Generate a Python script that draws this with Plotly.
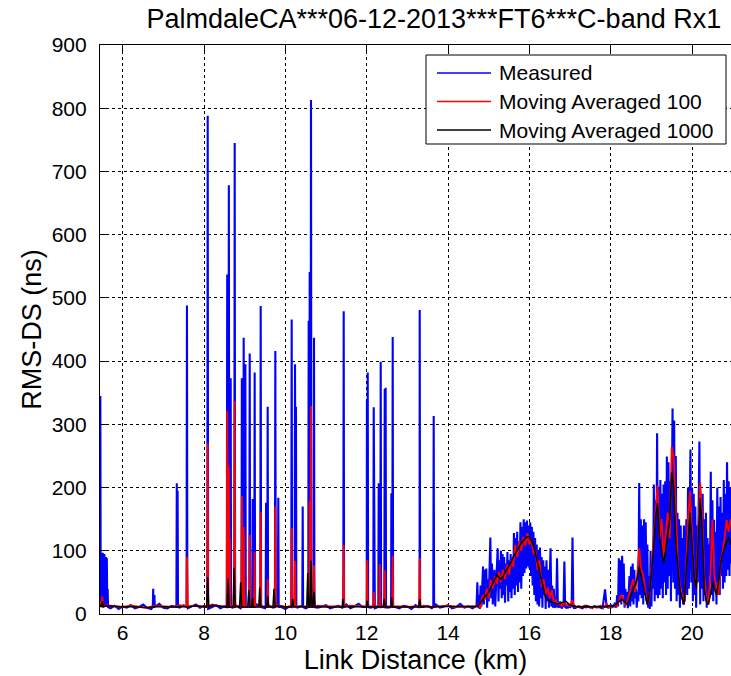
import numpy as np
import plotly.graph_objects as go

# ---------------- data ----------------
title_text = "PalmdaleCA***06-12-2013***FT6***C-band Rx1"
x_label = "Link Distance (km)"
y_label = "RMS-DS (ns)"
x_ticks = [6, 8, 10, 12, 14, 16, 18, 20]
y_ticks = [0, 100, 200, 300, 400, 500, 600, 700, 800, 900]
series_names = ["Measured", "Moving Averaged 100", "Moving Averaged 1000"]
series_colors = ["#0000FF", "#FF0000", "#000000"]

# Measured: quiet stretch sampled every 0.1 km from 5.4 km to 14.7 km
meas_quiet_start, meas_quiet_step = 5.4, 0.1
meas_quiet_y = [
    30, 14, 11, 9, 13, 8, 12, 10, 14, 9,
    11, 15, 10, 8, 12, 16, 10, 9, 13, 11,
    10, 14, 9, 12, 15, 10, 13, 8, 11, 14,
    9, 12, 16, 10, 13, 9, 14, 11, 10, 15,
    12, 9, 13, 10, 16, 11, 8, 12, 14, 10,
    13, 9, 15, 11, 10, 12, 14, 9, 11, 13,
    10, 15, 9, 12, 16, 11, 13, 10, 9, 14,
    12, 10, 15, 11, 9, 13, 12, 8, 14, 10,
    11, 13, 9, 15, 10, 12, 14, 9, 11, 16,
    10, 12, 9, 13,
]
# Measured: isolated spikes (km, ns)
meas_peak_x = [5.45, 5.47, 5.49, 5.51, 5.53, 5.55, 5.57, 5.59, 5.61, 5.63,
               6.75, 6.78, 7.33, 7.35, 7.58, 8.09, 8.57, 8.61, 8.655, 8.754,
               8.93, 8.955, 8.975, 9.016, 9.123, 9.196, 9.245, 9.393, 9.525, 9.565,
               9.753, 9.826, 10.155, 10.237, 10.26, 10.426, 10.573, 10.598, 10.63, 10.704,
               11.434, 12.005, 12.025, 12.172, 12.295, 12.344, 12.443, 12.465, 12.606, 12.639,
               13.303, 13.647]
meas_peak_y = [345, 95, 55, 97, 75, 95, 60, 90, 88, 40,
               40, 30, 207, 195, 488, 788, 537, 678, 373, 745,
               373, 360, 437, 395, 412, 182, 382, 487, 176, 328,
               416, 184, 466, 395, 328, 170, 464, 541, 813, 437,
               479, 338, 382, 327, 207, 399, 356, 358, 191, 438,
               481, 313]
meas_floor = 11
# Measured: first busy stretch, every 0.02 km from 14.72 km to 17.14 km
meas_hump1_start, meas_hump1_step = 14.72, 0.02
meas_hump1_y = [
    50, 10, 30, 8, 45, 12, 60, 75, 15, 70,
    30, 72, 10, 55, 20, 65, 121, 25, 80, 15,
    60, 70, 12, 50, 95, 104, 20, 85, 40, 100,
    25, 95, 30, 90, 18, 80, 45, 98, 20, 85,
    35, 95, 25, 88, 40, 128, 30, 120, 45, 130,
    35, 115, 50, 145, 40, 138, 60, 150, 65, 145,
    72, 148, 75, 140, 72, 145, 60, 138, 45, 130,
    30, 120, 20, 110, 15, 100, 12, 105, 25, 90,
    10, 85, 30, 75, 8, 85, 20, 70, 10, 60,
    104, 12, 45, 10, 40, 12, 10, 14, 88, 12,
    10, 13, 20, 11, 9, 12, 14, 83, 11, 10,
    13, 9, 12, 15, 10, 12, 14, 121, 11, 9,
    13, 10,
]
# Measured: quiet gap, every 0.1 km from 17.2 km to 17.8 km
meas_gap_start, meas_gap_step = 17.2, 0.1
meas_gap_y = [12, 9, 13, 10, 12, 11, 9]
# Measured: second busy stretch, every 0.02 km from 17.86 km to 20.98 km
meas_hump2_start, meas_hump2_step = 17.86, 0.02
meas_hump2_y = [
    39, 12, 10, 14, 9, 13, 11, 15, 10, 12,
    14, 11, 18, 10, 15, 30, 12, 88, 20, 85,
    15, 92, 30, 80, 10, 40, 15, 35, 9, 30,
    60, 12, 75, 20, 80, 15, 70, 25, 40, 10,
    35, 20, 207, 30, 150, 25, 140, 15, 150, 30,
    145, 20, 110, 10, 60, 8, 100, 12, 80, 40,
    205, 20, 180, 30, 286, 25, 200, 30, 212, 40,
    190, 25, 205, 50, 210, 30, 249, 40, 240, 60,
    210, 20, 180, 325, 50, 306, 40, 250, 20, 160,
    30, 150, 10, 140, 40, 120, 15, 140, 20, 130,
    150, 30, 200, 40, 230, 260, 50, 200, 20, 190,
    30, 170, 10, 140, 50, 150, 273, 15, 190, 40,
    190, 20, 150, 30, 160, 10, 120, 30, 110, 60,
    225, 30, 180, 20, 149, 40, 130, 15, 200, 50,
    170, 30, 185, 60, 160, 40, 212, 50, 190, 60,
    240, 70, 210, 60, 200, 80, 180,
]

# Moving average 100: quiet stretch every 0.2 km from 5.4 km
red_quiet_start, red_quiet_step = 5.4, 0.2
red_quiet_y = [
    25, 14, 12, 11, 13, 12, 10, 13, 12, 11,
    14, 12, 13, 11, 15, 12, 14, 13, 12, 11,
    13, 12, 14, 11, 13, 12, 11, 13, 12, 12,
    11, 13, 12, 14, 12, 11, 13, 12, 11, 12,
    13, 11, 12, 13, 11, 12, 12,
]
red_peak_x = [5.50, 7.58, 8.09, 8.57, 8.61, 8.635, 8.754, 8.93, 8.975, 9.123,
              9.245, 9.393, 9.565, 9.753, 10.155, 10.237, 10.598, 10.63, 10.704, 11.434,
              12.01, 12.172, 12.32, 12.443, 12.639, 13.303]
red_peak_y = [28, 90, 270, 321, 232, 120, 337, 187, 138, 125,
              98, 161, 55, 170, 136, 84, 179, 329, 77, 109,
              85, 35, 79, 69, 92, 88]
red_floor = 12
red_dense_start, red_dense_step = 14.70, 0.05
red_dense_y = [
    12, 15, 10, 30, 22, 40, 25, 54, 40, 60,
    48, 67, 50, 70, 55, 78, 62, 85, 75, 109,
    90, 115, 100, 122, 108, 128, 110, 117, 95, 100,
    70, 85, 43, 55, 30, 42, 25, 38, 18, 22,
    15, 17, 12, 20, 14, 16, 12, 22, 13, 11,
    12, 10, 11, 13, 10, 12, 11, 9, 12, 10,
    11, 13, 10, 12, 16, 11, 10, 12, 14, 12,
    22, 30, 25, 15, 18, 30, 40, 55, 35, 60,
    104, 70, 60, 35, 15, 25, 70, 120, 160, 203,
    120, 150, 90, 130, 160, 120, 265, 246, 150, 80,
    45, 30, 15, 60, 150, 195, 120, 60, 40, 140,
    208, 150, 60, 25, 15, 60, 149, 60, 40, 30,
    80, 100, 120, 149, 130, 150,
]

# Moving average 1000
black_quiet_start, black_quiet_step = 5.4, 0.2
black_quiet_y = [
    18, 13, 12, 11, 12, 11, 10, 12, 11, 11,
    12, 11, 13, 12, 14, 12, 13, 12, 11, 11,
    12, 11, 13, 11, 12, 12, 11, 12, 11, 11,
    11, 12, 12, 13, 12, 11, 12, 11, 11, 12,
    12, 11, 12, 12, 11, 12, 12,
]
black_peak_x = [5.50, 8.09, 8.59, 8.74, 8.90, 9.10, 9.196, 9.37, 9.565, 9.72,
                10.18, 10.55, 10.63, 10.704, 11.41, 12.01, 12.43, 12.61, 13.303]
black_peak_y = [20, 58, 56, 73, 50, 38, 25, 42, 28, 40,
                24, 65, 84, 35, 24, 21, 24, 26, 23]
black_floor = 11
black_dense_start, black_dense_step = 14.70, 0.05
black_dense_y = [
    12, 14, 18, 22, 28, 30, 35, 42, 50, 56,
    62, 58, 55, 60, 65, 70, 75, 82, 90, 96,
    102, 106, 112, 116, 120, 122, 122, 116, 108, 95,
    80, 65, 50, 38, 25, 22, 20, 19, 18, 17,
    16, 17, 18, 19, 20, 17, 14, 13, 12, 12,
    11, 12, 11, 12, 11, 12, 11, 11, 12, 11,
    12, 11, 12, 11, 12, 13, 12, 12, 14, 16,
    20, 22, 22, 18, 15, 22, 30, 40, 45, 55,
    75, 60, 40, 25, 15, 30, 60, 100, 150, 175,
    120, 100, 80, 100, 130, 150, 224, 200, 110, 70,
    40, 25, 15, 60, 120, 160, 110, 60, 40, 120,
    183, 130, 40, 20, 15, 30, 50, 40, 30, 50,
    80, 95, 106, 115, 122, 110,
]


def grid(start, step, ys):
    return start + step * np.arange(len(ys)), np.asarray(ys, float)


def spikes(pk_x, pk_y, floor, half):
    px = np.asarray(pk_x, float)
    sx = np.concatenate([px - half, px, px + half])
    sy = np.concatenate([np.full(len(px), floor), np.asarray(pk_y, float),
                         np.full(len(px), floor)])
    return sx, sy


def merge(*parts):
    x = np.concatenate([p[0] for p in parts])
    y = np.concatenate([p[1] for p in parts])
    o = np.argsort(x, kind="stable")
    return x[o], y[o]


mx, my = merge(grid(meas_quiet_start, meas_quiet_step, meas_quiet_y),
               spikes(meas_peak_x, meas_peak_y, meas_floor, 0.01),
               grid(meas_hump1_start, meas_hump1_step, meas_hump1_y),
               grid(meas_gap_start, meas_gap_step, meas_gap_y),
               grid(meas_hump2_start, meas_hump2_step, meas_hump2_y))
rx, ry = merge(grid(red_quiet_start, red_quiet_step, red_quiet_y),
               spikes(red_peak_x, red_peak_y, red_floor, 0.012),
               grid(red_dense_start, red_dense_step, red_dense_y))
kx, ky = merge(grid(black_quiet_start, black_quiet_step, black_quiet_y),
               spikes(black_peak_x, black_peak_y, black_floor, 0.025),
               grid(black_dense_start, black_dense_step, black_dense_y))

# ---------------- figure ----------------
FONT = "Arial, 'Liberation Sans', Helvetica, sans-serif"
W, H = 731, 676
L, R, T, B = 100, 0, 45, 62
PW, PH = W - L - R, H - T - B


def xp(px):  # pixel column -> paper fraction
    return (px - L) / PW


def yp(py):  # pixel row -> paper fraction
    return (H - B - py) / PH


fig = go.Figure()
widths = [2.1, 1.9, 1.5]
for (xx, yy), nm, col, w in zip([(mx, my), (rx, ry), (kx, ky)], series_names, series_colors, widths):
    fig.add_trace(go.Scatter(x=xx, y=yy, mode="lines", name=nm,
                             line=dict(color=col, width=w), showlegend=False))

# legend drawn as a boxed key (MATLAB style)
shapes = [dict(type="rect", xref="paper", yref="paper", x0=xp(426), x1=xp(726),
               y0=yp(144), y1=yp(55), line=dict(color="black", width=1),
               fillcolor="white", layer="above")]
annotations = []
for i, (nm, col) in enumerate(zip(series_names, series_colors)):
    row = 73 + 28.5 * i
    shapes.append(dict(type="line", xref="paper", yref="paper", x0=xp(437), x1=xp(491),
                       y0=yp(row), y1=yp(row), line=dict(color=col, width=1.6), layer="above"))
    annotations.append(dict(text=nm, xref="paper", yref="paper", x=xp(497), y=yp(row),
                            xanchor="left", yanchor="middle", showarrow=False,
                            font=dict(family=FONT, size=21, color="black")))

fig.update_layout(
    width=W, height=H,
    margin=dict(l=L, r=R, t=T, b=B, autoexpand=False),
    paper_bgcolor="white", plot_bgcolor="white",
    font=dict(family=FONT, size=21, color="black"),
    title=dict(text=title_text, x=0.529, xref="paper", xanchor="center",
               y=1 - 19 / H, yref="container", yanchor="middle",
               font=dict(family=FONT, size=27, color="black")),
    showlegend=False,
    shapes=shapes,
    annotations=annotations,
)
fig.update_xaxes(
    range=[5.442, 20.957], tickvals=x_ticks, ticks="inside", ticklen=6,
    tickcolor="black", tickwidth=1, showline=True, linecolor="black", linewidth=1.2,
    mirror="ticks", showgrid=True, gridcolor="black", griddash="dot", gridwidth=1,
    zeroline=False, ticklabelstandoff=0,
    tickfont=dict(family=FONT, size=21, color="black"),
    title=dict(text=x_label, font=dict(family=FONT, size=27, color="black"), standoff=6),
)
fig.update_yaxes(
    range=[0, 900], tickvals=y_ticks, ticks="inside", ticklen=6,
    tickcolor="black", tickwidth=1, showline=True, linecolor="black", linewidth=1.2,
    mirror=False, showgrid=True, gridcolor="black", griddash="dot", gridwidth=1,
    zeroline=False, ticklabelstandoff=8,
    tickfont=dict(family=FONT, size=21, color="black"),
    title=dict(text=y_label, font=dict(family=FONT, size=27, color="black"), standoff=2),
)

fig.write_html("out.html", config={"displayModeBar": False},
               post_script="document.body.style.margin='0px';document.body.style.overflow='hidden';")
